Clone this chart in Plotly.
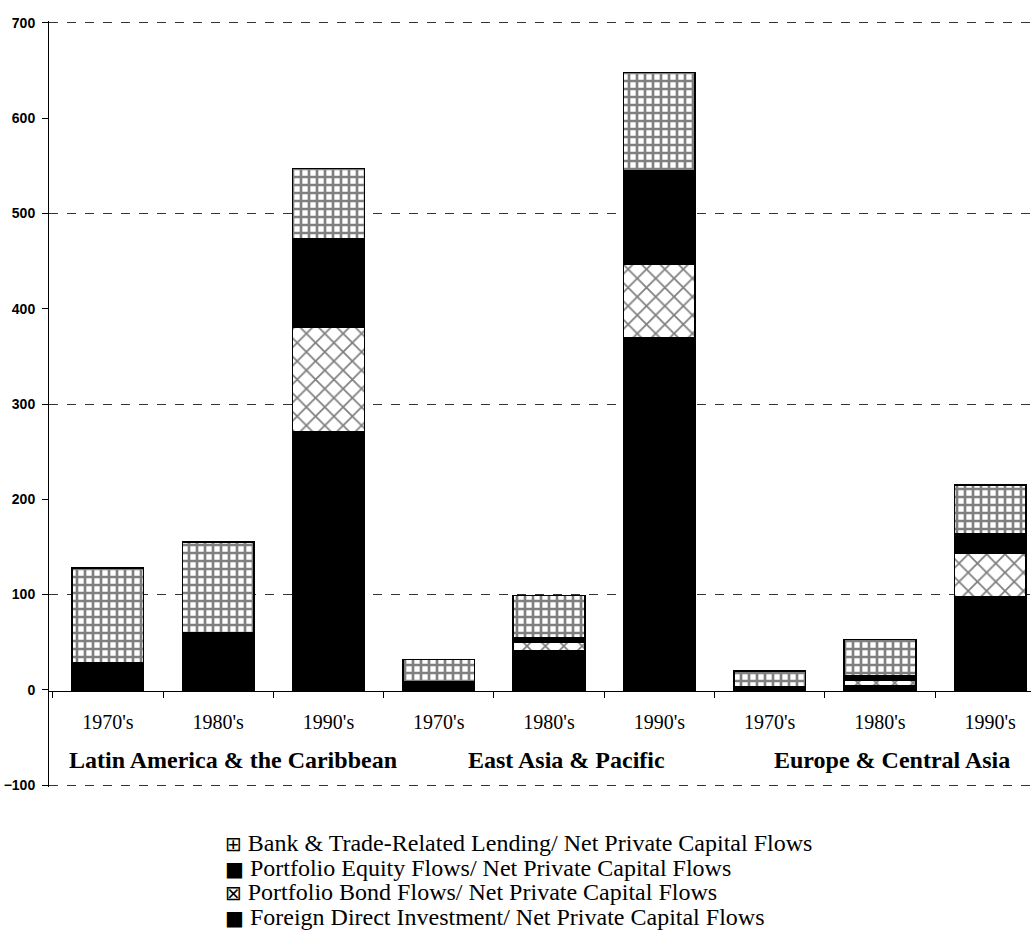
import plotly.graph_objects as go

# Share of net private capital flows by component, per region and decade
categories = ["LAC 1970", "LAC 1980", "LAC 1990",
              "EAP 1970", "EAP 1980", "EAP 1990",
              "ECA 1970", "ECA 1980", "ECA 1990"]
decade_labels = ["1970's", "1980's", "1990's"] * 3
regions = ["Latin America & the Caribbean", "East Asia & Pacific", "Europe & Central Asia"]
region_label_pos = [1.13, 4.16, 7.11]

fdi = [26, 60, 271, 9, 41, 370, 3, 4, 98]
bond = [2, 0, 110, 0, 9, 77, 0, 6, 45]
equity = [0, 0, 92, 0, 5, 98, 0, 5, 21]
bank = [100, 95, 74, 23, 44, 103, 17, 38, 51]

# (name, values, fill pattern, key glyph) in stacking order, bottom first
series = [
    ("Foreign Direct Investment/ Net Private Capital Flows", fdi, dict(shape=""), "\u25A0"),
    ("Portfolio Bond Flows/ Net Private Capital Flows", bond,
     dict(shape="x", fgcolor="black", bgcolor="white", size=13, solidity=0.25), "\u22A0"),
    ("Portfolio Equity Flows/ Net Private Capital Flows", equity, dict(shape=""), "\u25A0"),
    ("Bank & Trade-Related Lending/ Net Private Capital Flows", bank,
     dict(shape="+", fgcolor="black", bgcolor="white", size=8, solidity=0.55), "\u229E"),
]

serif = "Liberation Serif, Times New Roman, serif"
sans = "Liberation Sans, Arial, sans-serif"

fig = go.Figure()
for name, vals, pat, _ in series:
    fig.add_trace(go.Bar(
        x=categories, y=vals, name=name, showlegend=False,
        marker=dict(color="black", pattern=pat, line=dict(color="black", width=1.5)),
        width=0.65,
    ))

for label, xpos in zip(regions, region_label_pos):
    fig.add_annotation(x=xpos, y=-74, xref="x", yref="y", text=label, showarrow=False,
                       font=dict(family=serif, size=24, color="black", weight="bold"))

# Key below the plot, top entry = top of the stack
plot_h = 936 - 21 - 149
key_top_px, key_step_px = 56, 24.5
for i, (name, _, _, glyph) in enumerate(reversed(series)):
    fig.add_annotation(
        x=0.177, y=-(key_top_px + i * key_step_px) / plot_h,
        xref="paper", yref="paper", xanchor="left", yanchor="middle",
        showarrow=False,
        text=f'<span style="font-family:DejaVu Sans;font-size:20px">{glyph}</span> {name}',
        font=dict(family=serif, size=24, color="black"),
    )

fig.update_layout(
    width=1031, height=936,
    margin=dict(l=49, r=0, t=21, b=149),
    barmode="stack",
    plot_bgcolor="white", paper_bgcolor="white",
    showlegend=False,
    xaxis=dict(
        type="category", categoryorder="array", categoryarray=categories,
        range=[-0.534, 8.37],
        tickvals=categories, ticktext=decade_labels,
        tickson="boundaries", ticks="outside", ticklen=6, tickcolor="black",
        showline=True, linecolor="black", linewidth=1,
        anchor="free", position=0.125,
        tickfont=dict(family=serif, size=20, color="black"),
        ticklabelstandoff=13,
        showgrid=False, zeroline=False,
    ),
    yaxis=dict(
        range=[-102, 702], dtick=100, tick0=0,
        ticks="outside", ticklen=6, tickcolor="black",
        showline=True, linecolor="black", linewidth=1,
        tickfont=dict(family=sans, size=14, color="black", weight="bold"),
        ticklabelstandoff=4,
        showgrid=False, zeroline=False,
    ),
    yaxis2=dict(
        overlaying="y", matches="y", side="left",
        range=[-102, 702], dtick=200, tick0=-100,
        showgrid=True, gridcolor="#333", griddash="dash", gridwidth=1,
        showticklabels=False, ticks="", zeroline=False, showline=False,
    ),
)

# invisible carrier so the gridline axis is rendered
fig.add_trace(go.Scatter(x=[categories[0]], y=[0], yaxis="y2", mode="markers",
                         marker=dict(opacity=0), showlegend=False, hoverinfo="skip"))

fig.write_html("out.html")
